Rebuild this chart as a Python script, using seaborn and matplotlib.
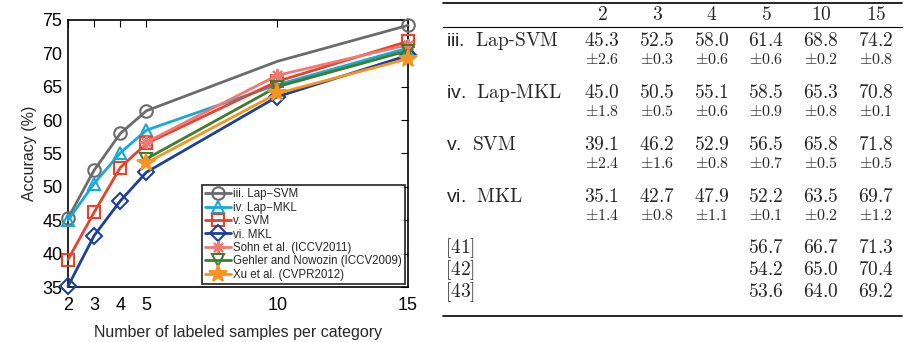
import matplotlib
matplotlib.use("Agg")
import matplotlib.pyplot as plt
import seaborn as sns
import pandas as pd

sns.set_theme(style="white")
plt.rcParams['font.family'] = ['Liberation Sans', 'DejaVu Sans']
plt.rcParams['mathtext.fontset'] = 'cm'

# ---------------- data ----------------
samples = [2, 3, 4, 5, 10, 15]
samples_ref = [5, 10, 15]
lap_svm = [45.3, 52.5, 58.0, 61.4, 68.8, 74.2]
lap_svm_std = [2.6, 0.3, 0.6, 0.6, 0.2, 0.8]
lap_mkl = [45.0, 50.5, 55.1, 58.5, 65.3, 70.8]
lap_mkl_std = [1.8, 0.5, 0.6, 0.9, 0.8, 0.1]
svm = [39.1, 46.2, 52.9, 56.5, 65.8, 71.8]
svm_std = [2.4, 1.6, 0.8, 0.7, 0.5, 0.5]
mkl = [35.1, 42.7, 47.9, 52.2, 63.5, 69.7]
mkl_std = [1.4, 0.8, 1.1, 0.1, 0.2, 1.2]
sohn = [56.7, 66.7, 71.3]
gehler = [54.2, 65.0, 70.4]
xu = [53.6, 64.0, 69.2]

legend_labels = ["iii. Lap\u2212SVM", "iv. Lap\u2212MKL", "v. SVM", "vi. MKL",
                 "Sohn et al. (ICCV2011)", "Gehler and Nowozin (ICCV2009)",
                 "Xu et al. (CVPR2012)"]
table_rows = ["Lap-SVM", "Lap-MKL", "SVM", "MKL"]
table_prefix = ["iii.", "iv.", "v.", "vi."]
ref_labels = ["[41]", "[42]", "[43]"]

series = [
    (samples, lap_svm, "#6b6b6b", "o", False, [0, 1, 2, 3, 5]),
    (samples, lap_mkl, "#1aa9d6", "^", False, [0, 1, 2, 3, 5]),
    (samples, svm, "#e8412c", "s", False, None),
    (samples, mkl, "#1c3f98", "D", False, None),
    (samples_ref, sohn, "#f07a72", (8, 2, 0), True, None),
    (samples_ref, gehler, "#3b7f2c", "v", False, None),
    (samples_ref, xu, "#f7931e", "*", True, None),
]

W, H = 905, 342
fig = plt.figure(figsize=(W / 100, H / 100), dpi=100)
ax = fig.add_axes([68 / W, 1 - 287 / H, (408 - 68) / W, (287 - 20) / H])

for (xs, ys, c, m, filled, mev), lab in zip(series, legend_labels):
    df = pd.DataFrame({"x": xs, "y": ys})
    ms = 8 if m == "D" else 9
    if m == "*":
        ms = 13
    kw = dict(marker=m, markersize=ms, markeredgewidth=1.5, color=c, lw=2.0,
              markerfacecolor=c if filled else "none", markeredgecolor=c,
              label=lab, clip_on=False)
    if mev is not None:
        kw["markevery"] = mev
    sns.lineplot(data=df, x="x", y="y", ax=ax, **kw)

ax.set_xlim(2, 15)
ax.set_ylim(35, 75)
ax.set_xticks(samples)
ax.set_yticks(range(35, 76, 5))
ax.tick_params(direction="in", top=True, right=True, length=5, width=0.8,
               labelsize=13, colors="black", pad=4)
ax.tick_params(axis="x", pad=7)
for s in ax.spines.values():
    s.set_color("black")
    s.set_linewidth(1.2)
    s.set_zorder(0.5)
ax.set_xlabel("Number of labeled samples per category", fontsize=11.5, labelpad=8)
ax.set_ylabel("Accuracy (%)", fontsize=11.5, labelpad=4)
ax.grid(False)

leg = ax.legend(loc="lower right", fontsize=8.3, frameon=True, fancybox=False,
                handlelength=2.2, handletextpad=0.2, borderpad=0.25,
                labelspacing=0.12, borderaxespad=0.3)
leg.get_frame().set_edgecolor("black")
leg.get_frame().set_linewidth(1.3)
leg.set_zorder(10)

# ---------------- table ----------------
tax = fig.add_axes([0, 0, 1, 1])
tax.set_xlim(0, W)
tax.set_ylim(H, 0)
tax.axis("off")

col_x = [602, 657, 712, 766, 821, 876]
lab_x = 446
tax.plot([443, 902], [3, 3], color="black", lw=1.2)
tax.plot([443, 902], [27, 27], color="black", lw=0.8)
tax.plot([443, 902], [316, 316], color="black", lw=1.2)

big = 14
small = 11.5
for cx, s in zip(col_x, samples):
    tax.text(cx, 15, f"${s}$", ha="center", va="center", fontsize=big)

means = [lap_svm, lap_mkl, svm, mkl]
stds = [lap_svm_std, lap_mkl_std, svm_std, mkl_std]
row_y = [41, 93, 145, 197]
for pre, name, mv, sv, y in zip(table_prefix, table_rows, means, stds, row_y):
    parts = name.split("-")
    if len(parts) == 2:
        lbl = pre + r"  $\mathrm{" + parts[0] + r"}$-$\mathrm{" + parts[1] + r"}$"
    else:
        lbl = pre + r"  $\mathrm{" + name + r"}$"
    tax.text(lab_x, y, lbl, ha="left", va="center", fontsize=big)
    for cx, m, s in zip(col_x, mv, sv):
        tax.text(cx, y, f"${m:.1f}$", ha="center", va="center", fontsize=big)
        tax.text(cx, y + 18, rf"$\pm{s:.1f}$", ha="center", va="center", fontsize=small)

ref_vals = [sohn, gehler, xu]
ref_y = [248, 270, 292]
for lab, vals, y in zip(ref_labels, ref_vals, ref_y):
    tax.text(lab_x - 1, y, f"${lab}$", ha="left", va="center", fontsize=big)
    for cx, v in zip(col_x[3:], vals):
        tax.text(cx, y, f"${v:.1f}$", ha="center", va="center", fontsize=big)

fig.savefig("out.png", dpi=100)
